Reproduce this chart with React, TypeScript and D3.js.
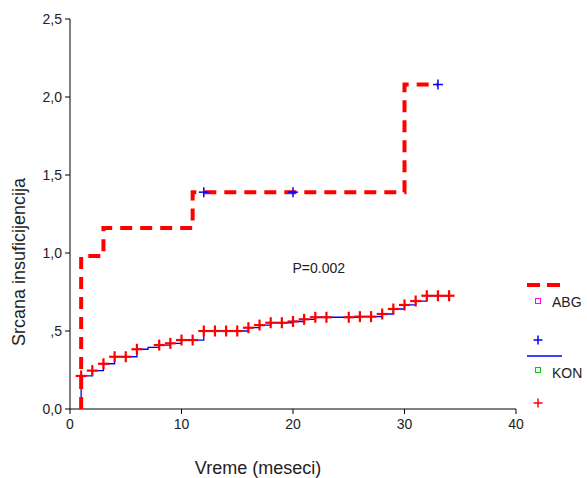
import React from "react";
import * as d3 from "d3";

const xTicks = [0, 10, 20, 30, 40];
const xTickLabels = ["0", "10", "20", "30", "40"];
const yTicks = [0, 0.5, 1, 1.5, 2, 2.5];
const yTickLabels = ["0,0", ",5", "1,0", "1,5", "2,0", "2,5"];

// ABG cumulative hazard steps (time, value)
const abgTimes = [1, 1, 3, 11, 30, 33];
const abgValues = [0, 0.98, 1.16, 1.39, 2.08, 2.08];
const abgCensor = [12, 20, 33];

// KON cumulative hazard steps
const konTimes = [1, 1, 2, 3, 4, 6, 7, 8, 9, 10, 12, 16, 17, 18, 20, 21, 22, 26, 28, 29, 30, 31, 32, 34];
const konValues = [0, 0.212, 0.246, 0.29, 0.335, 0.383, 0.395, 0.41, 0.421, 0.442, 0.5, 0.521, 0.538, 0.553, 0.561, 0.575, 0.588, 0.592, 0.609, 0.641, 0.667, 0.692, 0.726, 0.726];
const konCensor = [1, 2, 3, 4, 5, 6, 8, 9, 10, 11, 12, 13, 14, 15, 16, 17, 18, 19, 20, 21, 22, 23, 25, 26, 27, 28, 29, 30, 31, 32, 33, 34];

const legendLabels = ["ABG", "KON"];

const W = 587, H = 478;
const font = "'Liberation Sans', Arial, sans-serif";

function stepValue(times: number[], values: number[], t: number) {
  let v = values[0];
  for (let i = 0; i < times.length; i++) if (times[i] <= t) v = values[i];
  return v;
}

function Plus({ cx, cy, color, size, sw }: { cx: number; cy: number; color: string; size: number; sw: number }) {
  const h = size / 2;
  return (
    <g stroke={color} strokeWidth={sw}>
      <line x1={cx - h} x2={cx + h} y1={cy} y2={cy} />
      <line x1={cx} x2={cx} y1={cy - h} y2={cy + h} />
    </g>
  );
}

export default function App() {
  const x = d3.scaleLinear().domain([0, 40]).range([70, 516]);
  const y = d3.scaleLinear().domain([0, 2.5]).range([409, 19]);
  const line = d3
    .line<[number, number]>()
    .x((d) => x(d[0]))
    .y((d) => y(d[1]))
    .curve(d3.curveStepAfter);
  const abgPts = abgTimes.map((t, i) => [t, abgValues[i]] as [number, number]);
  const konPts = konTimes.map((t, i) => [t, konValues[i]] as [number, number]);

  return (
    <svg width={W} height={H} style={{ position: "absolute", left: 0, top: 0, background: "#fff" }} fontFamily={font}>
      <rect width={W} height={H} fill="#fff" />
      {/* axes */}
      <line x1={x(0)} x2={x(0)} y1={y(2.5)} y2={y(0)} stroke="#000" strokeWidth={1} />
      <line x1={x(0)} x2={x(40)} y1={y(0)} y2={y(0)} stroke="#000" strokeWidth={1} />
      {yTicks.map((v, i) => (
        <g key={"y" + i}>
          <line x1={x(0) - 5} x2={x(0)} y1={y(v)} y2={y(v)} stroke="#000" />
          <text x={x(0) - 8} y={y(v) + 5} textAnchor="end" fontSize={14} fill="#222">
            {yTickLabels[i]}
          </text>
        </g>
      ))}
      {xTicks.map((v, i) => (
        <g key={"x" + i}>
          <line x1={x(v)} x2={x(v)} y1={y(0)} y2={y(0) + 5} stroke="#000" />
          <text x={x(v)} y={y(0) + 19.5} textAnchor="middle" fontSize={14} fill="#222">
            {xTickLabels[i]}
          </text>
        </g>
      ))}
      <text x={258} y={474} textAnchor="middle" fontSize={18} fill="#222">
        Vreme (meseci)
      </text>
      <text transform="translate(24.5,262) rotate(-90)" textAnchor="middle" fontSize={18} fill="#222">
        Srcana insuficijencija
      </text>
      <text x={292.5} y={273} fontSize={14} fill="#222">
        P=0.002
      </text>

      {/* KON */}
      <path d={line(konPts) || ""} fill="none" stroke="#0000ff" strokeWidth={1.3} />
      {konCensor.map((t, i) => (
        <Plus key={"k" + i} cx={x(t)} cy={y(stepValue(konTimes, konValues, t))} color="#ff0000" size={11} sw={2.2} />
      ))}
      {/* ABG */}
      <path d={line(abgPts) || ""} fill="none" stroke="#ff0000" strokeWidth={4} strokeDasharray="12 8" />
      {abgCensor.map((t, i) => (
        <Plus key={"a" + i} cx={x(t)} cy={y(stepValue(abgTimes, abgValues, t))} color="#0000ff" size={10} sw={1.5} />
      ))}

      {/* legend */}
      <line x1={527} x2={561} y1={285} y2={285} stroke="#ff0000" strokeWidth={4} strokeDasharray="13 7" />
      <rect x={535.5} y={298.5} width={5} height={5} fill="none" stroke="#ff00ff" strokeWidth={1} />
      <text x={552} y={307} fontSize={14} fill="#222">{legendLabels[0]}</text>
      <Plus cx={538} cy={340} color="#0000ff" size={9} sw={1.5} />
      <line x1={527} x2={562} y1={356} y2={356} stroke="#0000ff" strokeWidth={1.3} />
      <rect x={535.5} y={367.5} width={5} height={5} fill="none" stroke="#00cc00" strokeWidth={1} />
      <text x={552} y={378} fontSize={14} fill="#222">{legendLabels[1]}</text>
      <Plus cx={538} cy={403} color="#ff0000" size={9} sw={1.5} />
    </svg>
  );
}
